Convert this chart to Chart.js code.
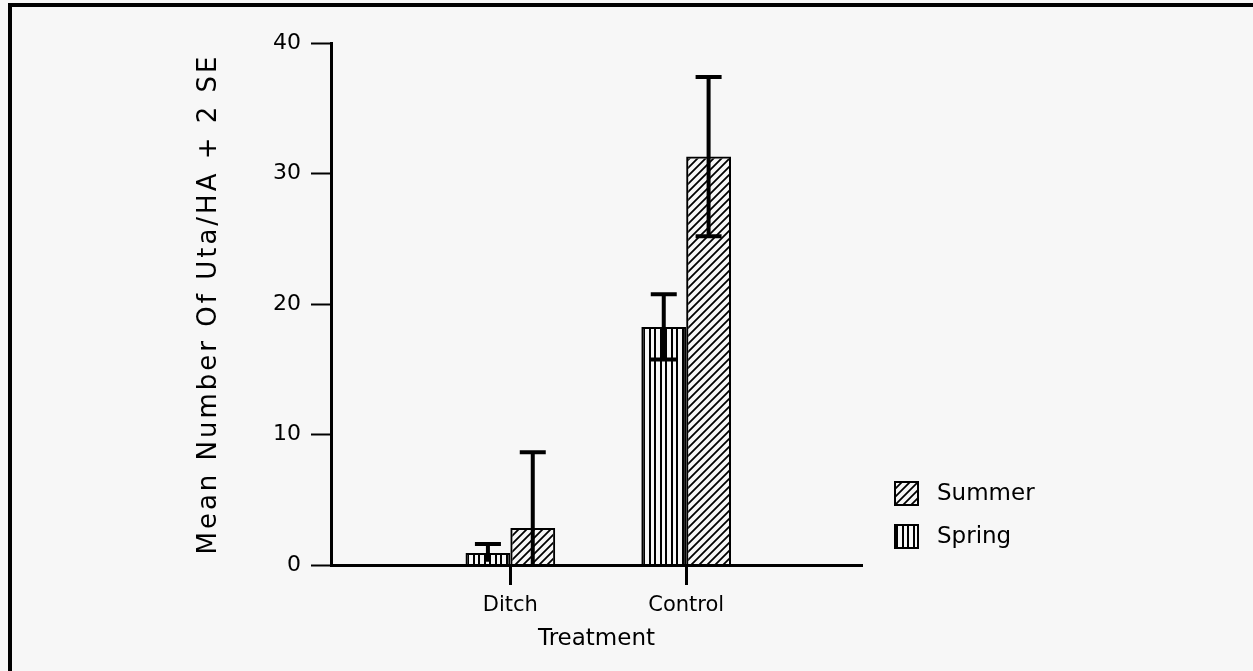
<!DOCTYPE html>
<html>
<head>
<meta charset="utf-8">
<script src="https://cdn.jsdelivr.net/npm/chart.js@4"></script>
<style>
  html, body { margin: 0; padding: 0; background: #f7f7f7; }
  #wrap { position: relative; width: 1253px; height: 671px; overflow: hidden; }
  #frame { position: absolute; left: 8px; top: 3px; right: -10px; bottom: -10px;
           border-top: 4px solid #000; border-left: 4px solid #000; pointer-events: none; }
</style>
</head>
<body>
<div id="wrap">
  <canvas id="myChart" width="1253" height="671"></canvas>
  <div id="frame"></div>
</div>
<script>
// data
const categories = ["Ditch", "Control"];
const categoryPos = [1, 2];
const springMean = [0.92, 18.24];
const springSE2 = [0.68, 2.5];
const summerMean = [2.84, 31.3];
const summerSE2 = [5.8, 6.1];
const yTicks = [0, 10, 20, 30, 40];

const FONT = "'DejaVu Sans', sans-serif";

function makeHatch() {
    const c = document.createElement("canvas");
    c.width = 8; c.height = 8;
    const g = c.getContext("2d");
    g.strokeStyle = "#000";
    g.lineWidth = 1.8;
    g.beginPath();
    g.moveTo(0, 8); g.lineTo(8, 0);
    g.moveTo(-2, 2); g.lineTo(2, -2);
    g.moveTo(6, 10); g.lineTo(10, 6);
    g.stroke();
    return g.createPattern(c, "repeat");
}

function makeVLines() {
    const c = document.createElement("canvas");
    c.width = 11; c.height = 4;
    const g = c.getContext("2d");
    g.fillStyle = "#000";
    g.fillRect(0, 0, 2, 4);
    g.fillRect(5, 0, 2, 4);
    return g.createPattern(c, "repeat");
}

const hatch = makeHatch();
const vlines = makeVLines();

function pts(vals) {
    return vals.map((v, i) => ({x: categoryPos[i], y: v}));
}

const errorBars = {
    id: "errorBars",
    afterDatasetsDraw(chart) {
        const ctx = chart.ctx;
        const y = chart.scales.y;
        const errs = [springSE2, summerSE2];
        ctx.save();
        ctx.strokeStyle = "#000";
        ctx.lineWidth = 4;
        chart.data.datasets.forEach((ds, di) => {
            const meta = chart.getDatasetMeta(di);
            meta.data.forEach((bar, i) => {
                const v = ds.data[i].y;
                const e = errs[di][i];
                const top = y.getPixelForValue(v + e);
                const lowVal = Math.max(0, v - e);
                const low = y.getPixelForValue(lowVal);
                ctx.beginPath();
                ctx.moveTo(bar.x, top);
                ctx.lineTo(bar.x, low);
                ctx.moveTo(bar.x - 13, top);
                ctx.lineTo(bar.x + 13, top);
                if (lowVal > 0.5) {
                    ctx.moveTo(bar.x - 13, low);
                    ctx.lineTo(bar.x + 13, low);
                }
                ctx.stroke();
            });
        });
        ctx.restore();
    }
};

// wider spacing for the y title, the original font is a wide one
const spacedTitle = {
    id: "spacedTitle",
    beforeDraw(chart) {
        const s = chart.scales.y;
        if (s._spaced) return;
        const orig = s.drawTitle;
        s.drawTitle = function() {
            this.ctx.save();
            this.ctx.letterSpacing = "3px";
            orig.apply(this, arguments);
            this.ctx.restore();
        };
        s._spaced = true;
    }
};

const patternLegend = {
    id: "patternLegend",
    afterDraw(chart) {
        const ctx = chart.ctx;
        const items = [chart.data.datasets[1], chart.data.datasets[0]];
        ctx.save();
        ctx.font = "23px " + FONT;
        ctx.textBaseline = "middle";
        items.forEach((ds, k) => {
            const bx = 895, by = 482 + k * 43;
            ctx.fillStyle = ds.backgroundColor;
            ctx.fillRect(bx, by, 23, 23);
            ctx.strokeStyle = "#000";
            ctx.lineWidth = 2;
            ctx.strokeRect(bx, by, 23, 23);
            ctx.fillStyle = "#000";
            ctx.fillText(ds.label, 937, by + 12);
        });
        ctx.restore();
    }
};

new Chart("myChart", {
    type: "bar",
    data: {
        datasets: [{
            label: "Spring",
            data: pts(springMean),
            backgroundColor: vlines,
            borderColor: "#000",
            borderWidth: 2,
            borderSkipped: "bottom"
        }, {
            label: "Summer",
            data: pts(summerMean),
            backgroundColor: hatch,
            borderColor: "#000",
            borderWidth: 2,
            borderSkipped: "bottom"
        }]
    },
    options: {
        responsive: false,
        animation: false,
        devicePixelRatio: 1,
        categoryPercentage: 0.51,
        barPercentage: 1,
        layout: {padding: {left: 194, top: 43, right: 391, bottom: 18}},
        plugins: {legend: {display: false}, tooltip: {enabled: false}},
        scales: {
            x: {
                type: "linear",
                offset: false,
                min: -0.02,
                max: 3,
                afterBuildTicks: s => { s.ticks = categoryPos.map(v => ({value: v})); },
                afterFit: s => { s.height = 671 - 565 - 18; },
                grid: {offset: false, drawOnChartArea: false, tickLength: 20, tickColor: "#000", tickWidth: 3},
                border: {color: "#000", width: 3},
                ticks: {
                    color: "#000",
                    padding: 8,
                    font: {family: FONT, size: 21},
                    callback: v => categories[categoryPos.indexOf(v)]
                },
                title: {display: true, text: "Treatment", color: "#000",
                        font: {family: FONT, size: 23}, padding: 0}
            },
            y: {
                min: 0,
                max: 40,
                afterBuildTicks: s => { s.ticks = yTicks.map(v => ({value: v})); },
                afterFit: s => { s.width = 331 - 194; },
                grid: {drawOnChartArea: false, tickLength: 20, tickColor: "#000", tickWidth: 2},
                border: {color: "#000", width: 3},
                ticks: {color: "#000", padding: 10, font: {family: FONT, size: 22}},
                title: {display: true, text: "Mean Number Of Uta/HA + 2 SE", color: "#000",
                        font: {family: FONT, size: 26}, padding: 0}
            }
        }
    },
    plugins: [spacedTitle, errorBars, patternLegend]
});
</script>
</body>
</html>
